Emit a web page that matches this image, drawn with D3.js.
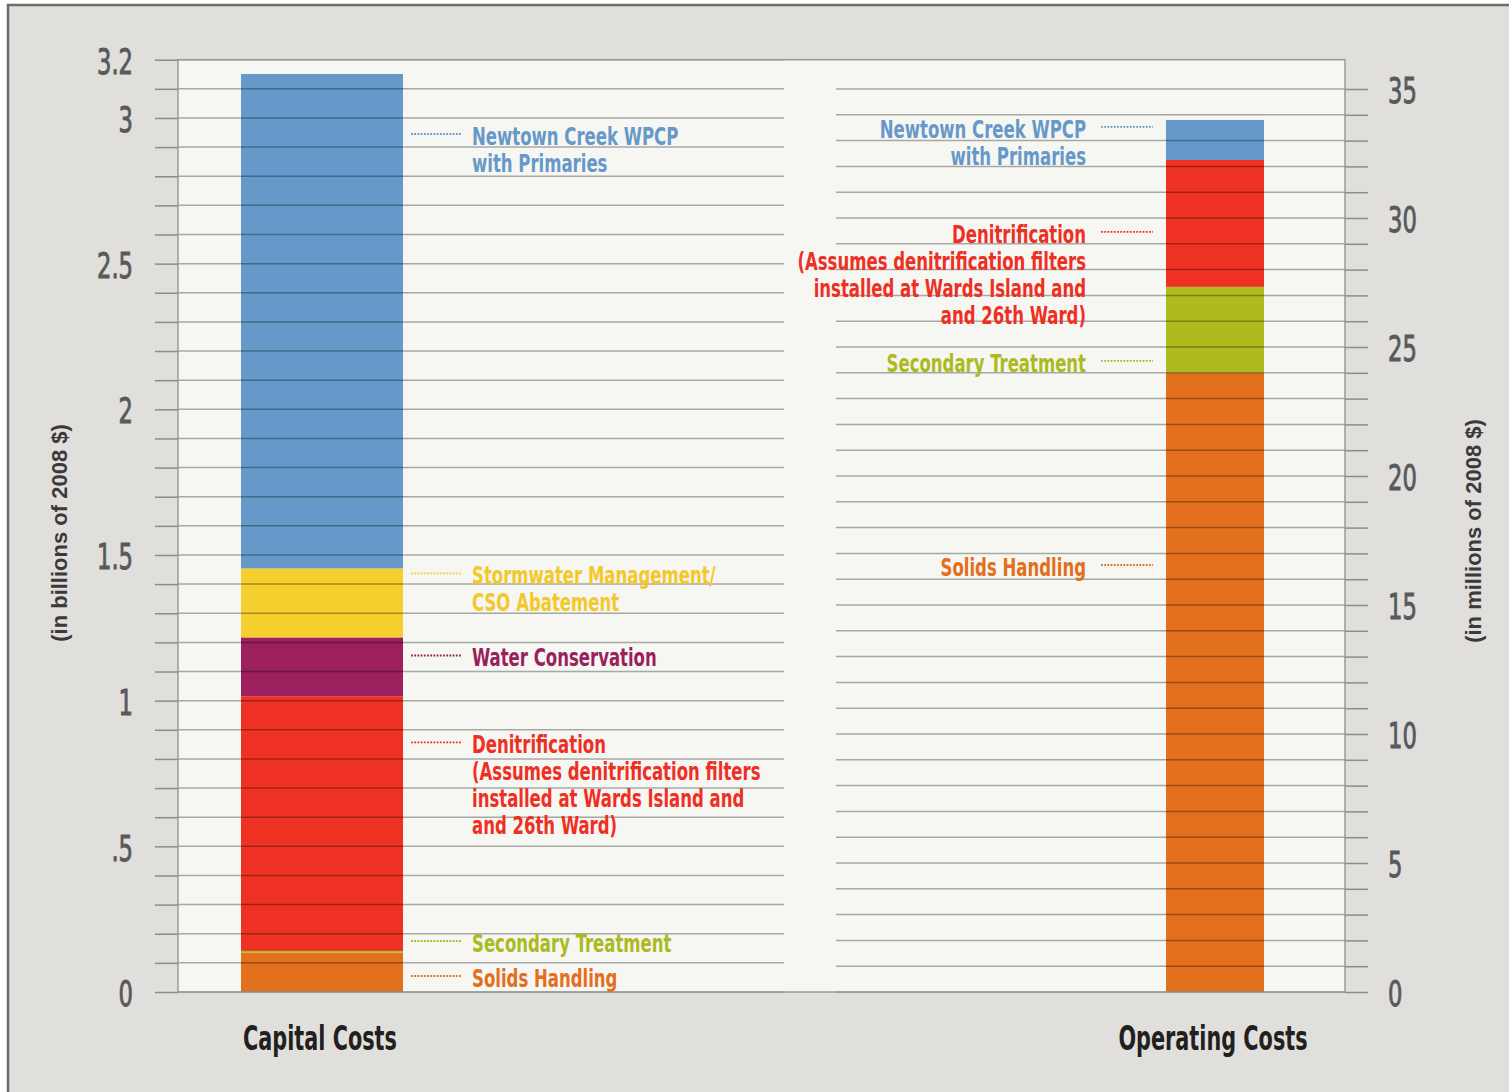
<!DOCTYPE html>
<html>
<head>
<meta charset="utf-8">
<script src="https://cdn.jsdelivr.net/npm/d3@7"></script>
<style>
  body { margin: 0; background: #fff; }
  svg { display: block; }
</style>
</head>
<body>
<svg width="1509" height="1092"></svg>
<script>
// the two bars
var categories = ["Capital Costs", "Operating Costs"];

// stacked from the bottom up
var series = ["Solids Handling", "Secondary Treatment", "Denitrification",
              "Water Conservation", "Stormwater Management", "Newtown Creek WPCP"];

var capitalValues = [0.135, 0.006, 0.874, 0.202, 0.237, 1.697];   // billions of 2008 $
var operatingValues = [24.0, 3.33, 4.92, 0, 0, 1.55];             // millions of 2008 $

var seriesLabels = [
  ["Solids Handling"],
  ["Secondary Treatment"],
  ["Denitrification", "(Assumes denitrification filters", "installed at Wards Island and", "and 26th Ward)"],
  ["Water Conservation"],
  ["Stormwater Management/", "CSO Abatement"],
  ["Newtown Creek WPCP", "with Primaries"]
];

// where each callout sits, in axis units (null = no callout)
var capitalLabelAt = [0.055, 0.175, 0.857, 1.155, 1.437, 2.945];
var operatingLabelAt = [16.55, 24.46, 29.46, null, null, 33.53];

var leftTicks = [0, 0.5, 1, 1.5, 2, 2.5, 3, 3.2];
var leftTickLabels = ["0", ".5", "1", "1.5", "2", "2.5", "3", "3.2"];
var rightTicks = [0, 5, 10, 15, 20, 25, 30, 35];

var colors = ["#e2701d", "#adbb1f", "#ef3123", "#9c1f5e", "#f4cf2e", "#6699c9"];
var textColors = ["#e36f1d", "#abba21", "#ee2f24", "#9a1f5d", "#f2c82b", "#6699c9"];

var narrow = "'Liberation Sans Narrow', 'DejaVu Sans Condensed', sans-serif";

var svg = d3.select("svg");

// frame + panel
var panelTop = 59.7, panelBottom = 992, panelLeft = 178, panelRight = 1345;

svg.append("rect")
    .attr("x", 8).attr("y", 5)
    .attr("width", 1520).attr("height", 1100)
    .attr("fill", "#e0dfdb")
    .attr("stroke", "#6b6b6b")
    .attr("stroke-width", 2.5);

svg.append("rect")
    .attr("x", panelLeft).attr("y", panelTop)
    .attr("width", panelRight - panelLeft).attr("height", panelBottom - panelTop)
    .attr("fill", "#f6f6f2");

var yLeft = d3.scaleLinear().domain([0, 3.2]).range([panelBottom, panelTop]);
var yRight = d3.scaleLinear().domain([0, 35]).range([panelBottom, 89]);
var scales = [yLeft, yRight];

var bars = [
  { x: 241, w: 162 },
  { x: 1166, w: 98 }
];

// stack the data
var rows = categories.map(function(c, i) {
  var vals = i === 0 ? capitalValues : operatingValues;
  var row = { category: c };
  series.forEach(function(s, j) { row[s] = vals[j]; });
  return row;
});

var stacked = d3.stack().keys(series)(rows);

var layers = svg.append("g")
  .selectAll("g")
  .data(stacked)
  .enter().append("g")
    .attr("fill", function(d, i) { return colors[i]; });

layers.selectAll("rect")
  .data(function(d) { return d; })
  .enter().append("rect")
    .attr("x", function(d, i) { return bars[i].x; })
    .attr("width", function(d, i) { return bars[i].w; })
    .attr("y", function(d, i) { return scales[i](d[1]); })
    .attr("height", function(d, i) { return scales[i](d[0]) - scales[i](d[1]); });

// grid lines go over the bars
var grid = svg.append("g")
    .attr("stroke", "#000")
    .attr("stroke-opacity", 0.32)
    .attr("stroke-width", 1.5);

grid.selectAll(".gl")
  .data(yLeft.ticks(32))
  .enter().append("line")
    .attr("x1", panelLeft).attr("x2", 784)
    .attr("y1", function(d) { return yLeft(d); })
    .attr("y2", function(d) { return yLeft(d); });

grid.selectAll(".gr")
  .data(d3.range(0, 36))
  .enter().append("line")
    .attr("x1", 836).attr("x2", panelRight)
    .attr("y1", function(d) { return yRight(d); })
    .attr("y2", function(d) { return yRight(d); });

svg.append("rect")
    .attr("x", panelLeft).attr("y", panelTop)
    .attr("width", panelRight - panelLeft).attr("height", panelBottom - panelTop)
    .attr("fill", "none")
    .attr("stroke", "#9a9a9a")
    .attr("stroke-width", 1.5);

// axes
var sx = 0.7;

var leftAxis = d3.axisLeft(yLeft)
    .tickValues(yLeft.ticks(32))
    .tickSize(23)
    .tickFormat(function(d) {
      var k = leftTicks.findIndex(function(t) { return Math.abs(t - d) < 1e-6; });
      return k < 0 ? "" : leftTickLabels[k];
    });

var gl = svg.append("g")
    .attr("transform", "translate(" + panelLeft + ",0)")
    .call(leftAxis);

var rightAxis = d3.axisRight(yRight)
    .tickValues(d3.range(0, 36))
    .tickSize(23)
    .tickFormat(function(d) { return rightTicks.indexOf(d) < 0 ? "" : d; });

var gr = svg.append("g")
    .attr("transform", "translate(" + panelRight + ",0)")
    .call(rightAxis);

[gl, gr].forEach(function(g, i) {
  g.select(".domain").remove();
  g.selectAll("line").attr("stroke", "#8c8c8c").attr("stroke-width", 1.5);
  g.selectAll("text")
      .attr("font-family", narrow)
      .attr("font-size", 36)
      .attr("fill", "#58595b")
      .attr("stroke", "#58595b")
      .attr("stroke-width", 0.9)
      .attr("dy", "0.38em")
      .attr("x", (i === 0 ? -45 : 43) / sx)
      .attr("transform", "scale(" + sx + ",1)");
});

// callouts
function callouts(at, barIndex) {
  var y = scales[barIndex];
  var isLeft = barIndex === 0;
  var g = svg.append("g");

  at.forEach(function(v, i) {
    if (v == null) return;
    var yy = y(v);

    g.append("line")
        .attr("x1", isLeft ? 411 : 1101)
        .attr("x2", isLeft ? 462 : 1153)
        .attr("y1", yy).attr("y2", yy)
        .attr("stroke", colors[i])
        .attr("stroke-width", 1.8)
        .attr("stroke-dasharray", "1.8,1.4");

    var t = g.append("text")
        .attr("transform", "translate(" + (isLeft ? 472 : 1086) + "," + (yy + 11) + ") scale(0.75,1)")
        .attr("text-anchor", isLeft ? "start" : "end")
        .attr("font-family", narrow)
        .attr("font-weight", "bold")
        .attr("font-size", 24.5)
        .attr("fill", textColors[i]);

    t.selectAll("tspan")
      .data(seriesLabels[i])
      .enter().append("tspan")
        .attr("x", 0)
        .attr("y", function(d, k) { return k * 27; })
        .text(function(d) { return d; });
  });
}

callouts(capitalLabelAt, 0);
callouts(operatingLabelAt, 1);

// category titles
svg.selectAll(".cat")
  .data(categories)
  .enter().append("text")
    .attr("transform", function(d, i) {
      return "translate(" + (bars[i].x + bars[i].w / 2 - 2) + ",1050) scale(0.68,1)";
    })
    .attr("text-anchor", "middle")
    .attr("font-family", narrow)
    .attr("font-weight", "bold")
    .attr("font-size", 34)
    .attr("fill", "#231f20")
    .text(function(d) { return d; });

// axis titles
svg.append("text")
    .attr("transform", "translate(67,533) rotate(-90)")
    .attr("text-anchor", "middle")
    .attr("font-family", "'Liberation Sans', Arial, sans-serif")
    .attr("font-weight", "bold")
    .attr("font-size", 22)
    .attr("fill", "#3a3a3a")
    .text("(in billions of 2008 $)");

svg.append("text")
    .attr("transform", "translate(1481,531) rotate(-90)")
    .attr("text-anchor", "middle")
    .attr("font-family", "'Liberation Sans', Arial, sans-serif")
    .attr("font-weight", "bold")
    .attr("font-size", 22)
    .attr("fill", "#3a3a3a")
    .text("(in millions of 2008 $)");
</script>
</body>
</html>
